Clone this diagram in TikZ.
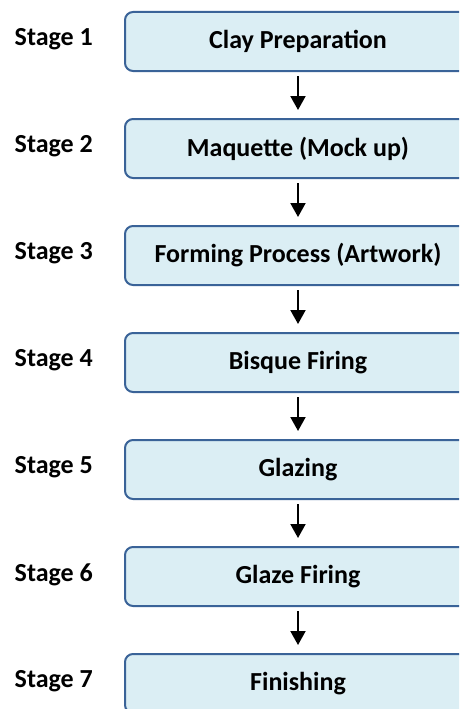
\documentclass[tikz,border=0pt]{standalone}
\usepackage{fontspec}
\setmainfont{Carlito}
\usetikzlibrary{positioning,arrows.meta}
\definecolor{boxline}{RGB}{58,99,152}
\definecolor{boxfill}{RGB}{219,238,244}
\begin{document}
\begin{tikzpicture}[x=1pt,y=-1pt,
  stagebox/.style={draw=boxline,fill=boxfill,line width=2pt,rounded corners=8pt,
    minimum width=346pt,minimum height=59pt,inner sep=0pt,
    font=\fontsize{26}{30}\selectfont\bfseries},
  stagelabel/.style={inner sep=0pt,yshift=2pt,font=\fontsize{26}{30}\selectfont\bfseries},
  flow/.style={line width=2pt,-{Triangle[width=15pt,length=14pt]},shorten <=4pt,shorten >=8pt}]
\useasboundingbox (0,0) rectangle (459,709);
\clip (0,0) rectangle (459,709);
\node[stagebox] at (298,41.5) (s1){Clay Preparation};
\node[stagebox,below=46pt of s1] (s2){Maquette (Mock up)};
\node[stagebox,below=46pt of s2] (s3){Forming Process (Artwork)};
\node[stagebox,below=46pt of s3] (s4){Bisque Firing};
\node[stagebox,below=46pt of s4] (s5){Glazing};
\node[stagebox,below=46pt of s5] (s6){Glaze Firing};
\node[stagebox,below=46pt of s6] (s7){Finishing};
\node[stagelabel,left=31pt of s1] (l1){Stage 1};
\node[stagelabel,left=31pt of s2] (l2){Stage 2};
\node[stagelabel,left=31pt of s3] (l3){Stage 3};
\node[stagelabel,left=31pt of s4] (l4){Stage 4};
\node[stagelabel,left=31pt of s5] (l5){Stage 5};
\node[stagelabel,left=31pt of s6] (l6){Stage 6};
\node[stagelabel,left=31pt of s7] (l7){Stage 7};
\draw[flow] (s1) -- (s2);
\draw[flow] (s2) -- (s3);
\draw[flow] (s3) -- (s4);
\draw[flow] (s4) -- (s5);
\draw[flow] (s5) -- (s6);
\draw[flow] (s6) -- (s7);
\end{tikzpicture}
\end{document}
